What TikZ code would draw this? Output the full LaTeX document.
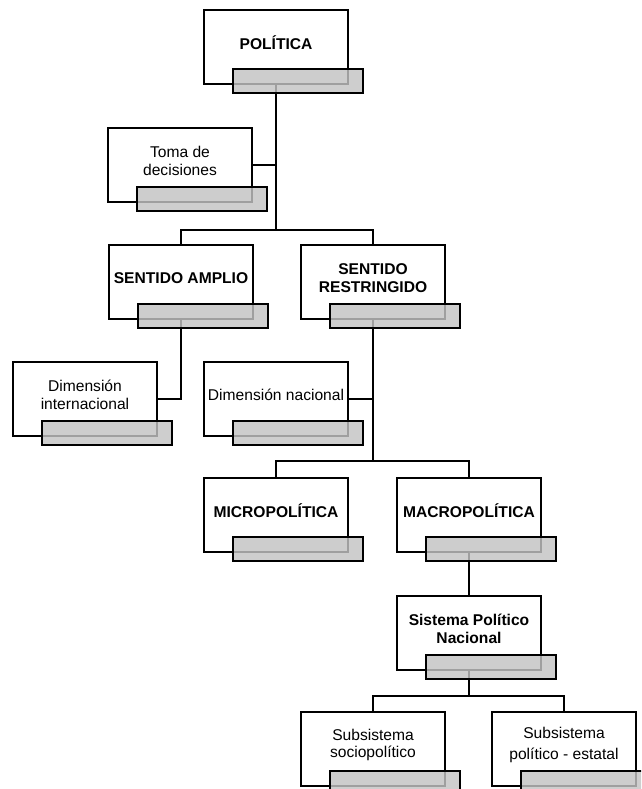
\documentclass[tikz,border=0pt]{standalone}
\usepackage{fontspec}
\setmainfont{Liberation Sans}
\definecolor{tabgray}{RGB}{195,195,195}
\newcommand\mkbox[4]{%
  \node[wbox, anchor=north west] (#1) at (#2,#3) {};
}
\newcommand\mktab[1]{%
  \node[tbox, anchor=north west] (#1-t) at ([xshift=29pt,yshift=15pt]#1.south west) {};
}
\begin{document}
\begin{tikzpicture}[x=1pt,y=-1pt,
  wbox/.style={draw=black, line width=2.2pt, fill=white, minimum width=144pt, minimum height=74pt, inner sep=0pt, outer sep=0pt},
  tbox/.style={draw=black, line width=2.2pt, fill=tabgray, fill opacity=0.82, minimum width=130pt, minimum height=24pt, inner sep=0pt, outer sep=0pt},
  lbl/.style={align=center, font=\fontsize{15.6}{17.5}\selectfont, inner sep=0pt},
  blbl/.style={align=center, font=\fontsize{15.6}{17.5}\selectfont\bfseries, inner sep=0pt},
  conn/.style={draw=black, line width=2.2pt}]
\useasboundingbox (0,0) rectangle (641,789);
\clip (0,0) rectangle (641,789);
% white boxes
\mkbox{pol}{204}{10}{}
\mkbox{toma}{108}{128}{}
\mkbox{amp}{109}{245}{}
\mkbox{res}{301}{245}{}
\mkbox{dint}{13}{362}{}
\mkbox{dnac}{204}{362}{}
\mkbox{mic}{204}{478}{}
\mkbox{mac}{397}{478}{}
\mkbox{spn}{397}{596}{}
\mkbox{sa}{301}{712}{}
\mkbox{sb}{492}{712}{}
% labels
\node[blbl] (pol-l) at ([yshift=4pt]pol.center) {POLÍTICA};
\node[lbl] (toma-l) at ([yshift=4pt]toma.center) {Toma de\\decisiones};
\node[blbl] (amp-l) at ([yshift=4pt]amp.center) {SENTIDO AMPLIO};
\node[blbl] (res-l) at ([yshift=4pt]res.center) {SENTIDO\\RESTRINGIDO};
\node[lbl] (dint-l) at ([yshift=4pt]dint.center) {Dimensión\\internacional};
\node[lbl] (dnac-l) at ([yshift=4pt]dnac.center) {Dimensión nacional};
\node[blbl] (mic-l) at ([yshift=4pt]mic.center) {MICROPOLÍTICA};
\node[blbl] (mac-l) at ([yshift=4pt]mac.center) {MACROPOLÍTICA};
\node[blbl] (spn-l) at ([yshift=4pt]spn.center) {Sistema Político\\Nacional};
\node[lbl] (sa-l) at ([yshift=4pt]sa.center) {Subsistema\\sociopolítico};
\node[lbl, font=\fontsize{15.6}{21}\selectfont] (sb-l) at ([yshift=4pt]sb.center) {Subsistema\\político - estatal};
% junctions
\coordinate (j1) at (276,230);
\coordinate (j2) at (373,461);
\coordinate (j3) at (469,696);
% connectors
\draw[conn] (pol.south) -- (j1);
\draw[conn] (amp.north) |- (j1) -| (res.north);
\draw[conn] (toma.east) -- (toma.east -| pol.south);
\draw[conn] (amp.south) |- (dint.east);
\draw[conn] (res.south) -- (j2);
\draw[conn] (mic.north) |- (j2) -| (mac.north);
\draw[conn] (dnac.east) -- (dnac.east -| res.south);
\draw[conn] (mac.south) -- (spn.north);
\draw[conn] (spn.south) -- (j3);
\draw[conn] (sa.north) |- (j3) -| (sb.north);
% gray tabs
\mktab{pol}
\mktab{toma}
\mktab{amp}
\mktab{res}
\mktab{dint}
\mktab{dnac}
\mktab{mic}
\mktab{mac}
\mktab{spn}
\mktab{sa}
\mktab{sb}
\end{tikzpicture}
\end{document}
